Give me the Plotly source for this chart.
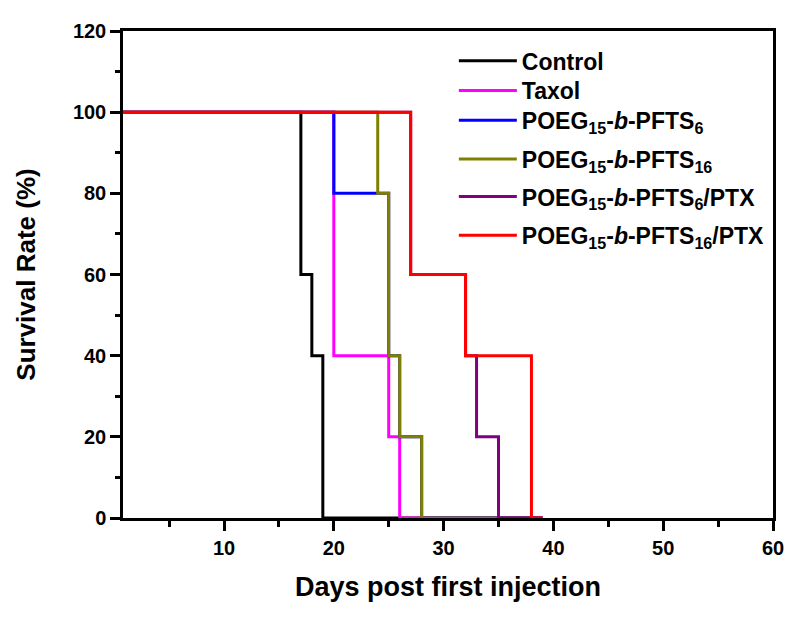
import plotly.graph_objects as go

# survival data (days post first injection vs survival %)
days_control = [0, 17, 18, 19, 39]
surv_control = [100, 60, 40, 0, 0]

days_taxol = [0, 20, 25, 26, 39]
surv_taxol = [100, 40, 20, 0, 0]

days_poeg6 = [0, 20, 25, 26, 28, 39]
surv_poeg6 = [100, 80, 40, 20, 0, 0]

days_poeg16 = [0, 24, 25, 26, 28, 39]
surv_poeg16 = [100, 80, 40, 20, 0, 0]

days_ptx6 = [0, 27, 32, 33, 35, 39]
surv_ptx6 = [100, 60, 40, 20, 0, 0]

days_ptx16 = [0, 27, 32, 38, 39]
surv_ptx16 = [100, 60, 40, 0, 0]

names = [
    "Control",
    "Taxol",
    "POEG<sub>15</sub>-<i>b</i>-PFTS<sub>6</sub>",
    "POEG<sub>15</sub>-<i>b</i>-PFTS<sub>16</sub>",
    "POEG<sub>15</sub>-<i>b</i>-PFTS<sub>6</sub>/PTX",
    "POEG<sub>15</sub>-<i>b</i>-PFTS<sub>16</sub>/PTX",
]
colors = ["#000000", "#FF00FF", "#0000FF", "#808000", "#800080", "#FF0000"]
series = [
    (days_control, surv_control),
    (days_taxol, surv_taxol),
    (days_poeg6, surv_poeg6),
    (days_poeg16, surv_poeg16),
    (days_ptx6, surv_ptx6),
    (days_ptx16, surv_ptx16),
]

FONT = "Liberation Sans, Arial, sans-serif"

# the page body has an 8px margin, so the plot area is shifted by the margins below
ML, MR, MT, MB = 115, 35, 19, 111
PLOT_H = 621 - MT - MB

# legend rows (window y of each legend line), one legend per trace
legend_rows = [57, 87, 117, 156, 194, 233]

fig = go.Figure()
layout_legends = {}
for i, ((x, y), name, col) in enumerate(zip(series, names, colors)):
    key = "legend" if i == 0 else f"legend{i + 1}"
    fig.add_trace(go.Scatter(x=x, y=y, name=name, mode="lines", legend=key,
                             showlegend=True,
                             line=dict(color=col, width=3, shape="hv")))
    row_y = legend_rows[i] - 8
    layout_legends[key] = dict(
        x=0.509, y=1 - (row_y - MT) / PLOT_H, xanchor="left", yanchor="middle",
        bgcolor="rgba(0,0,0,0)", itemwidth=58,
        font=dict(family=FONT, size=23, color="black", weight="bold"))

axis_common = dict(
    showline=True, linecolor="black", linewidth=2.5, mirror=True,
    showgrid=False, zeroline=False, ticks="outside", ticklen=10, tickwidth=2.5,
    tickcolor="black", layer="below traces",
    tickfont=dict(family=FONT, size=20, color="black", weight="bold"),
)

fig.update_xaxes(range=[0.8, 60], tickvals=[10, 20, 30, 40, 50, 60],
                 minor=dict(dtick=5, tick0=0, ticks="outside", ticklen=6, tickwidth=2.5, tickcolor="black"),
                 title=dict(text="Days post first injection", standoff=20,
                            font=dict(family=FONT, size=27, color="black", weight="bold")),
                 **axis_common)
fig.update_yaxes(range=[0, 120], tickvals=[0, 20, 40, 60, 80, 100, 120],
                 minor=dict(dtick=10, tick0=0, ticks="outside", ticklen=5, tickwidth=2.5, tickcolor="black"),
                 title=dict(text="Survival Rate (%)", standoff=30,
                            font=dict(family=FONT, size=26, color="black", weight="bold")),
                 **axis_common)

fig.update_layout(
    width=800, height=621,
    margin=dict(l=ML, r=MR, t=MT, b=MB),
    paper_bgcolor="white", plot_bgcolor="white",
    showlegend=True,
    **layout_legends,
)

fig.write_html("out.html")
